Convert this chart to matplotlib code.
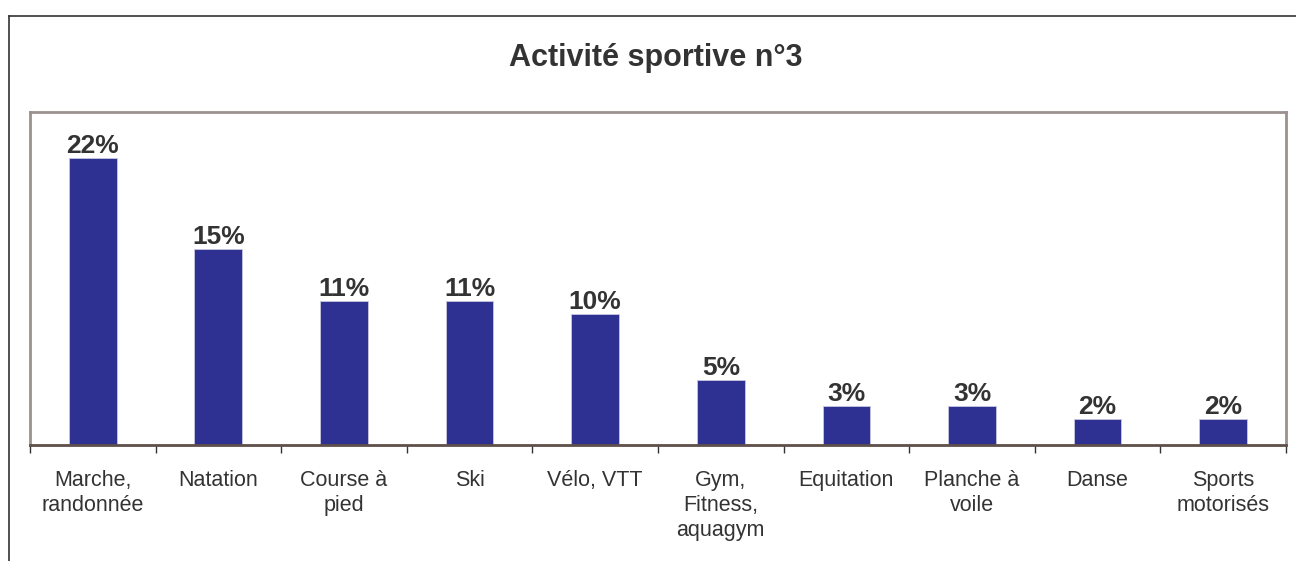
import matplotlib.pyplot as plt
from matplotlib.lines import Line2D

plt.rcParams['font.family'] = ['Liberation Sans', 'DejaVu Sans']

# data
categories = ["Marche,\nrandonnée", "Natation", "Course à\npied", "Ski", "Vélo, VTT",
              "Gym,\nFitness,\naquagym", "Equitation", "Planche à\nvoile", "Danse",
              "Sports\nmotorisés"]
values = [22, 15, 11, 11, 10, 5, 3, 3, 2, 2]
labels = ["22%", "15%", "11%", "11%", "10%", "5%", "3%", "3%", "2%", "2%"]

fig = plt.figure(figsize=(12.96, 5.61), dpi=100)
ax = fig.add_axes([0.0231, 0.2068, 0.9692, 0.5936])

x = range(len(values))
bars = ax.bar(x, values, width=0.38, color='#2E3192', edgecolor='#c8c8e0', linewidth=0.6)
for b, lab in zip(bars, labels):
    ax.text(b.get_x() + b.get_width() / 2, b.get_height() + 0.0, lab,
            ha='center', va='bottom', fontsize=19, fontweight='bold', color='#333333')

ax.set_xlim(-0.5, len(values) - 0.5)
ax.set_ylim(0, 25.5)
ax.set_yticks([])
ax.set_xticks([i - 0.5 for i in range(len(values) + 1)], minor=False)
ax.set_xticklabels([])
ax.set_xticks(list(x), minor=True)
ax.set_xticklabels(categories, minor=True, fontsize=15.5, color='#333333', linespacing=1.25)
ax.tick_params(axis='x', which='major', length=6, width=1, color='#333333', direction='out')
ax.tick_params(axis='x', which='minor', length=0, pad=18)
for tl in ax.get_xticklabels(minor=True):
    tl.set_verticalalignment('top')

for s in ['top', 'left', 'right']:
    ax.spines[s].set_color('#9c918e')
    ax.spines[s].set_linewidth(2)
ax.spines['bottom'].set_color('#5e4f4a')
ax.spines['bottom'].set_linewidth(2)

fig.text(0.506, 0.897, "Activité sportive n°3", ha='center', va='center',
         fontsize=22, fontweight='bold', color='#333333')

# outer frame (left and top)
fig.add_artist(Line2D([9 / 1296, 9 / 1296], [0, 1 - 16 / 561], transform=fig.transFigure,
                      color='#333333', lw=1.2))
fig.add_artist(Line2D([9 / 1296, 1], [1 - 16 / 561, 1 - 16 / 561], transform=fig.transFigure,
                      color='#333333', lw=1.2))

fig.savefig('out.png', dpi=100)
